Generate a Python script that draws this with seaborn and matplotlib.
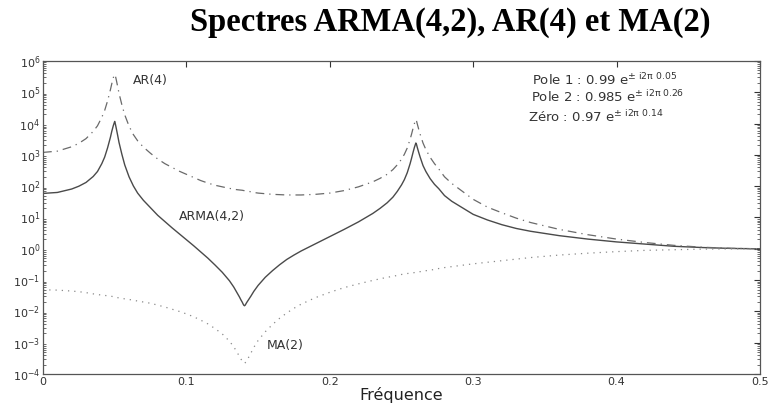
import numpy as np
import pandas as pd
import matplotlib
matplotlib.use("Agg")
import matplotlib.pyplot as plt
import seaborn as sns
from matplotlib.ticker import FixedLocator, NullFormatter, LogFormatterSciNotation

# Frequencies
freq = [0.000, 0.010, 0.020, 0.025, 0.030, 0.035, 0.038, 0.041, 0.043, 0.045,
        0.047, 0.048, 0.049, 0.0495, 0.050, 0.0505, 0.051, 0.052, 0.053, 0.055,
        0.057, 0.060, 0.063, 0.066, 0.070, 0.075, 0.080, 0.085, 0.090, 0.095,
        0.100, 0.105, 0.110, 0.115, 0.120, 0.125, 0.130, 0.133, 0.135, 0.137,
        0.138, 0.139, 0.1395, 0.140, 0.1405, 0.141, 0.1415, 0.142, 0.143, 0.145,
        0.147, 0.150, 0.155, 0.160, 0.165, 0.170, 0.175, 0.180, 0.190, 0.200,
        0.210, 0.220, 0.230, 0.235, 0.240, 0.244, 0.247, 0.250, 0.252, 0.254,
        0.256, 0.257, 0.258, 0.259, 0.2595, 0.260, 0.2605, 0.261, 0.262, 0.263,
        0.265, 0.267, 0.270, 0.273, 0.276, 0.280, 0.285, 0.290, 0.295, 0.300,
        0.310, 0.320, 0.330, 0.340, 0.360, 0.380, 0.400, 0.420, 0.440, 0.460,
        0.480, 0.500]

# log10 of spectral densities
log_ar = [3.08, 3.12, 3.26, 3.37, 3.52, 3.75, 3.93, 4.20, 4.42, 4.72,
          5.08, 5.28, 5.46, 5.53, 5.57, 5.52, 5.42, 5.20, 4.97, 4.60,
          4.28, 3.92, 3.65, 3.45, 3.25, 3.05, 2.87, 2.72, 2.60, 2.48,
          2.38, 2.28, 2.18, 2.10, 2.03, 1.98, 1.93, 1.91, 1.89, 1.88,
          1.875, 1.87, 1.865, 1.86, 1.858, 1.855, 1.85, 1.848, 1.84, 1.82,
          1.80, 1.78, 1.76, 1.74, 1.73, 1.72, 1.72, 1.72, 1.74, 1.78,
          1.86, 1.98, 2.14, 2.25, 2.38, 2.53, 2.68, 2.86, 3.02, 3.22,
          3.50, 3.66, 3.84, 4.00, 4.07, 4.13, 4.08, 3.99, 3.82, 3.66,
          3.38, 3.17, 2.92, 2.72, 2.55, 2.30, 2.09, 1.92, 1.75, 1.58,
          1.33, 1.15, 0.98, 0.84, 0.62, 0.45, 0.31, 0.20, 0.11, 0.05,
          0.015, 0.0]

log_ma = [-1.31, -1.32, -1.35, -1.37, -1.40, -1.44, -1.46, -1.48, -1.49, -1.50,
          -1.52, -1.52, -1.53, -1.53, -1.54, -1.54, -1.55, -1.56, -1.57, -1.58,
          -1.60, -1.62, -1.64, -1.67, -1.70, -1.74, -1.80, -1.86, -1.93, -2.00,
          -2.08, -2.17, -2.28, -2.40, -2.55, -2.72, -2.95, -3.13, -3.28, -3.44,
          -3.52, -3.59, -3.62, -3.65, -3.66, -3.64, -3.61, -3.57, -3.50, -3.33,
          -3.15, -2.93, -2.65, -2.42, -2.22, -2.05, -1.90, -1.77, -1.56, -1.39,
          -1.24, -1.12, -1.01, -0.96, -0.91, -0.88, -0.85, -0.82, -0.81, -0.79,
          -0.78, -0.77, -0.77, -0.76, -0.76, -0.75, -0.75, -0.745, -0.74, -0.73,
          -0.72, -0.70, -0.68, -0.66, -0.63, -0.60, -0.57, -0.54, -0.51, -0.48,
          -0.43, -0.38, -0.33, -0.28, -0.20, -0.14, -0.09, -0.05, -0.03, -0.01,
          -0.003, 0.0]

log_arma = [1.77, 1.80, 1.91, 2.00, 2.12, 2.31, 2.47, 2.72, 2.93, 3.22,
            3.56, 3.76, 3.93, 4.00, 4.07, 3.98, 3.87, 3.64, 3.40, 3.02,
            2.68, 2.30, 2.01, 1.78, 1.55, 1.31, 1.07, 0.87, 0.67, 0.48,
            0.29, 0.10, -0.10, -0.30, -0.52, -0.75, -1.02, -1.22, -1.38, -1.54,
            -1.63, -1.71, -1.76, -1.80, -1.82, -1.80, -1.76, -1.72, -1.65, -1.51,
            -1.36, -1.17, -0.91, -0.70, -0.51, -0.34, -0.20, -0.07, 0.16, 0.39,
            0.62, 0.86, 1.13, 1.29, 1.47, 1.65, 1.83, 2.04, 2.21, 2.43,
            2.72, 2.89, 3.07, 3.24, 3.31, 3.38, 3.33, 3.24, 3.08, 2.93,
            2.66, 2.47, 2.24, 2.06, 1.92, 1.70, 1.52, 1.38, 1.24, 1.10,
            0.92, 0.77, 0.65, 0.56, 0.42, 0.31, 0.22, 0.15, 0.08, 0.04,
            0.012, 0.0]

series_names = ["ARMA(4,2)", "AR(4)", "MA(2)"]
x_ticks = [0, 0.1, 0.2, 0.3, 0.4, 0.5]
x_tick_labels = ["0", "0.1", "0.2", "0.3", "0.4", "0.5"]
y_decades = [-4, -3, -2, -1, 0, 1, 2, 3, 4, 5, 6]

df = pd.DataFrame({
    "f": freq * 3,
    "S": list(10.0 ** np.array(log_arma)) + list(10.0 ** np.array(log_ar)) + list(10.0 ** np.array(log_ma)),
    "serie": [series_names[0]] * len(freq) + [series_names[1]] * len(freq) + [series_names[2]] * len(freq),
})

sns.set_style("white")
plt.rcParams['font.family'] = ['DejaVu Sans']
plt.rcParams['mathtext.fontset'] = 'dejavusans'

fig = plt.figure(figsize=(7.68, 4.03), dpi=100)
ax = fig.add_axes([43 / 768, 1 - 374 / 403, (760 - 43) / 768, (374 - 61) / 403])

styles = {
    "ARMA(4,2)": dict(color="#4a4a4a", lw=1.0, ls="-"),
    "AR(4)": dict(color="#6a6a6a", lw=0.9, ls=(0, (7, 4, 1, 4))),
    "MA(2)": dict(color="#8a8a8a", lw=0.9, ls=(0, (1, 4))),
}
for name in series_names:
    sub = df[df["serie"] == name]
    sns.lineplot(data=sub, x="f", y="S", ax=ax, color=styles[name]["color"],
                 linewidth=styles[name]["lw"], linestyle=styles[name]["ls"],
                 legend=False, sort=False)

ax.set_yscale("log")
ax.set_xlim(0, 0.5)
ax.set_ylim(1e-4, 1e6)
ax.xaxis.set_major_locator(FixedLocator(x_ticks))
ax.set_xticklabels(x_tick_labels)
major_y = [10.0 ** d for d in y_decades]
minor_y = [m * 10.0 ** d for d in y_decades[:-1] for m in range(2, 10)]
ax.yaxis.set_major_locator(FixedLocator(major_y))
ax.yaxis.set_major_formatter(LogFormatterSciNotation())
ax.yaxis.set_minor_locator(FixedLocator(minor_y))
ax.yaxis.set_minor_formatter(NullFormatter())
ax.tick_params(axis="both", which="major", direction="in", length=4, width=0.8,
               labelsize=8, colors="#333333", top=True, right=True, pad=2)
ax.tick_params(axis="y", which="minor", direction="in", length=2, width=0.6,
               left=True, right=True, colors="#555555")
for s in ax.spines.values():
    s.set_color("#555555")
    s.set_linewidth(0.9)
ax.set_xlabel("Fréquence", fontsize=11.5, color="#222222", labelpad=0)
ax.set_ylabel("")

ax.text(0.063, 2.3e5, "AR(4)", fontsize=9, color="#333333", va="center", ha="left")
ax.text(0.095, 1.05e1, "ARMA(4,2)", fontsize=9, color="#333333", va="center", ha="left")
ax.text(0.156, 0.8e-3, "MA(2)", fontsize=9, color="#333333", va="center", ha="left")

ax.text(0.341, 2.45e5, r"Pole 1 : 0.99 e$^{\pm\ \mathrm{i2\pi}\ 0.05}$", fontsize=9.5, color="#333333", va="center")
ax.text(0.340, 7.0e4, r"Pole 2 : 0.985 e$^{\pm\ \mathrm{i2\pi}\ 0.26}$", fontsize=9.5, color="#333333", va="center")
ax.text(0.338, 1.6e4, r"Zéro : 0.97 e$^{\pm\ \mathrm{i2\pi}\ 0.14}$", fontsize=9.5, color="#333333", va="center")

fig.text(450 / 768, 1 - 22 / 403, "Spectres ARMA(4,2), AR(4) et MA(2)", fontsize=23.5,
         fontweight="bold", family="Liberation Serif", ha="center", va="center", color="black")

fig.savefig("out.png", dpi=100)
